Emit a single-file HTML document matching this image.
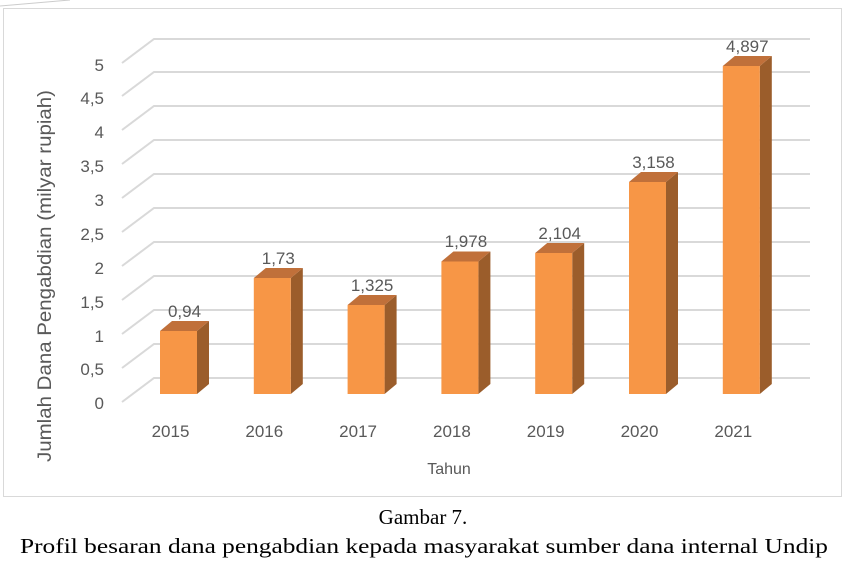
<!DOCTYPE html>
<html><head><meta charset="utf-8"><style>
body{margin:0;background:#fff;width:847px;height:567px;overflow:hidden}
svg text{font-family:"Liberation Sans",sans-serif;fill:#595959}
.s{fill:#9B5D2B}.tp{fill:#C0703A}.f{fill:#F79646}
</style></head><body>
<svg width="847" height="567" xmlns="http://www.w3.org/2000/svg">
<line x1="0" y1="6" x2="70" y2="0" stroke="#ccc"/>
<rect x="3.5" y="8.5" width="838" height="488" fill="#fff" stroke="#d9d9d9"/>
<g stroke="#d9d9d9" stroke-width="2" fill="none">
<polyline points="122,402 154,378 810,378"/>
<polyline points="122,368 154,344 810,344"/>
<polyline points="122,334 154,310 810,310"/>
<polyline points="122,300 154,276 810,276"/>
<polyline points="122,266 154,242 810,242"/>
<polyline points="122,232 154,208 810,208"/>
<polyline points="122,198 154,174 810,174"/>
<polyline points="122,164 154,140 810,140"/>
<polyline points="122,130 154,106 810,106"/>
<polyline points="122,96 154,72 810,72"/>
<polyline points="122,63 154,39 810,39"/>
</g>
<g font-size="17" text-anchor="end">
<text x="104" y="409">0</text><text x="104" y="375">0,5</text><text x="104" y="342">1</text>
<text x="104" y="308">1,5</text><text x="104" y="274">2</text><text x="104" y="240">2,5</text>
<text x="104" y="206">3</text><text x="104" y="172">3,5</text><text x="104" y="138">4</text>
<text x="104" y="104">4,5</text><text x="104" y="71">5</text>
</g>

<g transform="translate(160,0)">
<polygon class="s" points="37,394 49,384 49,321 37,331"/>
<polygon class="tp" points="0,331 12,321 49,321 37,331"/>
<rect class="f" x="0" y="331" width="37" height="63"/>
</g>
<g transform="translate(253.8,0)">
<polygon class="s" points="37,394 49,384 49,268 37,278"/>
<polygon class="tp" points="0,278 12,268 49,268 37,278"/>
<rect class="f" x="0" y="278" width="37" height="116"/>
</g>
<g transform="translate(347.6,0)">
<polygon class="s" points="37,394 49,384 49,295 37,305"/>
<polygon class="tp" points="0,305 12,295 49,295 37,305"/>
<rect class="f" x="0" y="305" width="37" height="89"/>
</g>
<g transform="translate(441.4,0)">
<polygon class="s" points="37,394 49,384 49,251.5 37,261.5"/>
<polygon class="tp" points="0,261.5 12,251.5 49,251.5 37,261.5"/>
<rect class="f" x="0" y="261.5" width="37" height="132.5"/>
</g>
<g transform="translate(535.2,0)">
<polygon class="s" points="37,394 49,384 49,243 37,253"/>
<polygon class="tp" points="0,253 12,243 49,243 37,253"/>
<rect class="f" x="0" y="253" width="37" height="141"/>
</g>
<g transform="translate(629,0)">
<polygon class="s" points="37,394 49,384 49,172 37,182"/>
<polygon class="tp" points="0,182 12,172 49,172 37,182"/>
<rect class="f" x="0" y="182" width="37" height="212"/>
</g>
<g transform="translate(722.8,0)">
<polygon class="s" points="37,394 49,384 49,56 37,66"/>
<polygon class="tp" points="0,66 12,56 49,56 37,66"/>
<rect class="f" x="0" y="66" width="37" height="328"/>
</g>

<g font-size="17" text-anchor="middle">
<text x="184.5" y="317">0,94</text>
<text x="278.3" y="264">1,73</text>
<text x="372.1" y="291">1,325</text>
<text x="465.9" y="247">1,978</text>
<text x="559.7" y="239">2,104</text>
<text x="653.5" y="168">3,158</text>
<text x="747.3" y="52">4,897</text>
</g>
<g font-size="17" text-anchor="middle">
<text x="170.5" y="437">2015</text>
<text x="264.3" y="437">2016</text>
<text x="358.1" y="437">2017</text>
<text x="451.9" y="437">2018</text>
<text x="545.7" y="437">2019</text>
<text x="639.5" y="437">2020</text>
<text x="733.3" y="437">2021</text>
</g>
<text x="51" y="276" font-size="19" text-anchor="middle" textLength="372" lengthAdjust="spacingAndGlyphs" transform="rotate(-90 51 276)">Jumlah Dana Pengabdian (milyar rupiah)</text>
<text x="449" y="474" font-size="16" text-anchor="middle">Tahun</text>
<text x="423" y="524" font-size="21" text-anchor="middle" style="font-family:'Liberation Serif',serif;fill:#000">Gambar 7.</text>
<text x="424" y="553" font-size="21" text-anchor="middle" textLength="808" lengthAdjust="spacingAndGlyphs" style="font-family:'Liberation Serif',serif;fill:#000">Profil besaran dana pengabdian kepada masyarakat sumber dana internal Undip</text>
</svg>
</body></html>
